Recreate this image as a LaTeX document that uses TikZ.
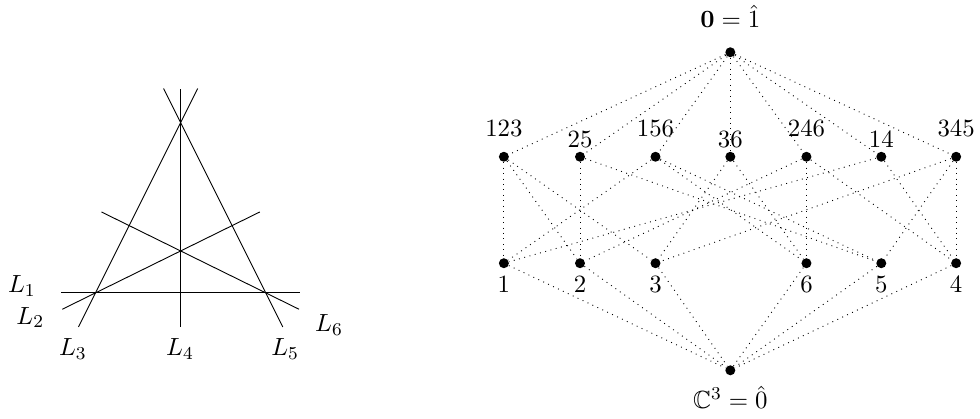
\documentclass[tikz,border=0pt]{standalone}
\usepackage{amssymb}
\usepackage{amsmath}
\usepackage{tikz}
\usetikzlibrary{calc}

\begin{document}
\begin{tikzpicture}[every node/.append style={font=\fontsize{10.95}{13}\selectfont}, vert/.style={circle,fill,inner sep=0pt,minimum size=4.4pt}, edge/.style={dotted}]
\useasboundingbox (0,0) rectangle (15.19,6.48);

% the arrangement
\coordinate (A) at (1.48,1.94);
\coordinate (B) at (4.12,1.94);
\coordinate (T) at (2.80,4.58);
\coordinate (C) at (2.80,2.59);

\draw ($(A)!-0.2!(B)$) -- ($(A)!1.2!(B)$);
\draw ($(A)!-0.39!(C)$) -- ($(A)!1.93!(C)$);
\draw ($(A)!-0.2!(T)$) -- ($(A)!1.2!(T)$);
\draw ($(C)!-0.59!(T)$) -- ($(C)!1.26!(T)$);
\draw ($(B)!-0.2!(T)$) -- ($(B)!1.2!(T)$);
\draw ($(B)!-0.39!(C)$) -- ($(B)!1.93!(C)$);

\node (L1) at (0.34,2.05) {$L_1$};
\node (L2) at (0.47,1.56) {$L_2$};
\node (L3) at (1.13,1.07) {$L_3$};
\node (L4) at (2.79,1.07) {$L_4$};
\node (L5) at (4.42,1.07) {$L_5$};
\node (L6) at (5.10,1.44) {$L_6$};

% the lattice
\node[vert] (top) at (11.32,5.67) [label={[label distance=5pt]above:$\mathbf{0}=\hat{1}$}] {};

\node[vert] (m123) at (7.81,4.05) [label={[label distance=3pt]above:$123$}] {};
\node[vert] (m25) at (8.99,4.05) [label={[label distance=-1.8pt]above:$25$}] {};
\node[vert] (m156) at (10.16,4.05) [label={[label distance=3pt]above:$156$}] {};
\node[vert] (m36) at (11.32,4.05) [label={[label distance=-1.8pt]above:$36$}] {};
\node[vert] (m246) at (12.50,4.05) [label={[label distance=3pt]above:$246$}] {};
\node[vert] (m14) at (13.66,4.05) [label={[label distance=-1.8pt]above:$14$}] {};
\node[vert] (m345) at (14.82,4.05) [label={[label distance=3pt]above:$345$}] {};

\node[vert] (l1) at (7.81,2.40) [label=below:$1$] {};
\node[vert] (l2) at (8.99,2.40) [label=below:$2$] {};
\node[vert] (l3) at (10.16,2.40) [label=below:$3$] {};
\node[vert] (l6) at (12.50,2.40) [label=below:$6$] {};
\node[vert] (l5) at (13.66,2.40) [label=below:$5$] {};
\node[vert] (l4) at (14.82,2.40) [label=below:$4$] {};

\node[vert] (bot) at (11.32,0.74) [label={[label distance=1pt]below:$\mathbb{C}^3=\hat{0}$}] {};

\draw[edge] (top) -- (m123);
\draw[edge] (top) -- (m25);
\draw[edge] (top) -- (m156);
\draw[edge] (top) -- (m36);
\draw[edge] (top) -- (m246);
\draw[edge] (top) -- (m14);
\draw[edge] (top) -- (m345);

\draw[edge] (m123) -- (l1);
\draw[edge] (m123) -- (l2);
\draw[edge] (m123) -- (l3);
\draw[edge] (m25) -- (l2);
\draw[edge] (m25) -- (l5);
\draw[edge] (m156) -- (l1);
\draw[edge] (m156) -- (l5);
\draw[edge] (m156) -- (l6);
\draw[edge] (m36) -- (l3);
\draw[edge] (m36) -- (l6);
\draw[edge] (m246) -- (l2);
\draw[edge] (m246) -- (l4);
\draw[edge] (m246) -- (l6);
\draw[edge] (m14) -- (l1);
\draw[edge] (m14) -- (l4);
\draw[edge] (m345) -- (l3);
\draw[edge] (m345) -- (l4);
\draw[edge] (m345) -- (l5);

\draw[edge] (l1) -- (bot);
\draw[edge] (l2) -- (bot);
\draw[edge] (l3) -- (bot);
\draw[edge] (l6) -- (bot);
\draw[edge] (l5) -- (bot);
\draw[edge] (l4) -- (bot);

\end{tikzpicture}
\end{document}
